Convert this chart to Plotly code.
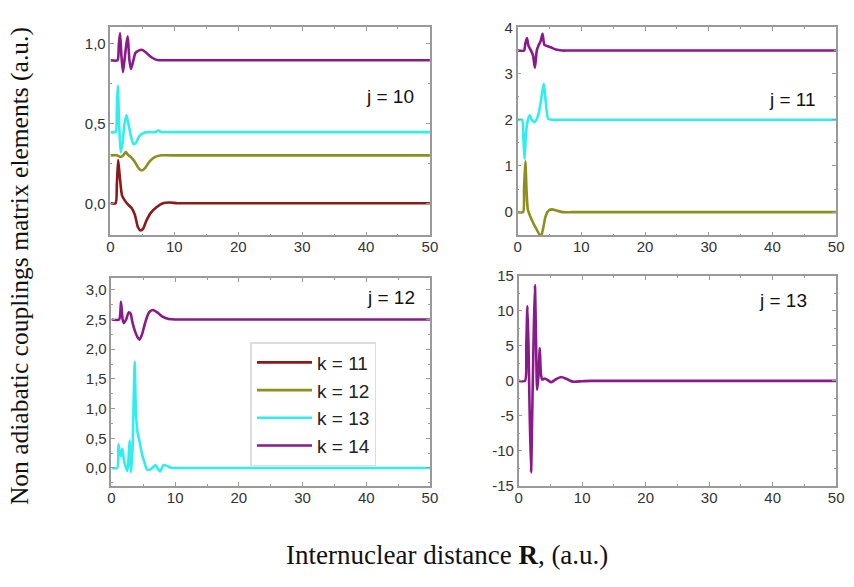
import plotly.graph_objects as go

# ---- series: internuclear distance R (a.u.) and coupling values ----
# j = 10
R_j10_k11 = [0, 0.8, 1.0, 1.2, 1.45, 1.8, 2.2, 2.8, 3.3, 3.8, 4.3, 4.7, 5.1, 5.6, 6.3, 7.2, 8.2, 9.2, 10.5, 12, 50]
V_j10_k11 = [0, 0, 0.12, 0.27, 0.17, 0.05, 0.02, -0.01, -0.03, -0.07, -0.15, -0.17, -0.16, -0.11, -0.06, -0.025, 0, 0.005, 0, 0, 0]
R_j10_k12 = [0, 1.0, 1.6, 2.0, 2.4, 2.8, 3.2, 3.8, 4.4, 4.9, 5.4, 6.2, 7.0, 8.0, 9.5, 50]
V_j10_k12 = [0.3, 0.3, 0.29, 0.3, 0.32, 0.3, 0.29, 0.26, 0.22, 0.205, 0.22, 0.265, 0.29, 0.3, 0.3, 0.3]
R_j10_k13 = [0, 0.8, 1.0, 1.15, 1.35, 1.6, 1.9, 2.2, 2.5, 2.8, 3.2, 3.6, 4.0, 4.5, 5.2, 6.0, 7.0, 7.5, 8.0, 9.5, 50]
V_j10_k13 = [0.445, 0.445, 0.6, 0.735, 0.5, 0.32, 0.38, 0.5, 0.55, 0.5, 0.42, 0.37, 0.38, 0.42, 0.44, 0.445, 0.445, 0.455, 0.445, 0.445, 0.445]
R_j10_k14 = [0, 1.1, 1.3, 1.5, 1.7, 1.95, 2.2, 2.5, 2.7, 2.95, 3.2, 3.5, 3.9, 4.4, 4.9, 5.5, 6.2, 7.0, 7.6, 9.0, 50]
V_j10_k14 = [0.895, 0.895, 0.99, 1.065, 0.93, 0.82, 0.9, 1.0, 1.045, 0.9, 0.84, 0.88, 0.94, 0.955, 0.96, 0.945, 0.92, 0.9, 0.895, 0.895, 0.895]

# j = 11
R_j11_k12 = [0, 0.85, 1.0, 1.2, 1.4, 1.6, 2.0, 2.5, 3.0, 3.4, 3.7, 4.0, 4.4, 4.9, 5.4, 6.2, 7.2, 8.5, 50]
V_j11_k12 = [0, 0, 0.5, 1.1, 0.45, 0.05, -0.1, -0.25, -0.38, -0.48, -0.5, -0.35, -0.08, 0.04, 0.06, 0.03, 0, 0, 0]
R_j11_k13 = [0, 0.7, 0.9, 1.08, 1.3, 1.6, 1.9, 2.2, 2.6, 3.0, 3.4, 3.8, 4.1, 4.4, 4.8, 5.5, 6.5, 50]
V_j11_k13 = [2.0, 2.0, 1.6, 1.15, 1.7, 2.0, 2.1, 2.0, 1.95, 2.02, 2.2, 2.55, 2.78, 2.4, 2.02, 2.0, 2.0, 2.0]
R_j11_k14 = [0, 1.0, 1.2, 1.45, 1.7, 2.0, 2.4, 2.7, 3.0, 3.3, 3.6, 3.9, 4.2, 4.6, 5.2, 6.0, 7.0, 8.0, 50]
V_j11_k14 = [3.5, 3.5, 3.65, 3.77, 3.6, 3.52, 3.4, 3.13, 3.5, 3.62, 3.7, 3.86, 3.62, 3.6, 3.57, 3.52, 3.5, 3.5, 3.5]

# j = 12
R_j12_k13 = [0, 0.9, 1.1, 1.3, 1.5, 1.7, 1.85, 2.0, 2.2, 2.5, 2.7, 2.85, 3.05, 3.3, 3.5, 3.65, 3.85, 4.1, 4.4, 4.7,
             5.1, 5.6, 6.2, 6.9, 7.3, 7.6, 8.2, 8.8, 9.5, 10.5, 50]
V_j12_k13 = [0, 0, 0.4, 0.28, 0.2, 0.32, 0.22, 0.1, 0.03, -0.05, 0.2, 0.46, -0.07, 0.3, 1.2, 1.79, 0.9, 0.6, 0.45, 0.28,
             0.12, -0.03, -0.02, 0.05, -0.02, -0.06, 0.05, 0.03, 0, 0, 0]
R_j12_k14 = [0, 1.2, 1.5, 1.75, 1.95, 2.3, 2.7, 3.0, 3.3, 3.7, 4.1, 4.4, 4.8, 5.3, 5.9, 6.5, 7.2, 8.0, 9.0, 10.0, 11.5, 50]
V_j12_k14 = [2.5, 2.5, 2.8, 2.5, 2.44, 2.5, 2.62, 2.6, 2.45, 2.3, 2.2, 2.16, 2.25, 2.45, 2.62, 2.66, 2.62, 2.55, 2.51, 2.5, 2.5, 2.5]

# j = 13
R_j13_k14 = [0, 1.0, 1.2, 1.38, 1.55, 1.7, 1.95, 2.15, 2.35, 2.56, 2.75, 2.9, 3.1, 3.33, 3.5, 3.7, 4.1, 4.6, 5.1, 5.8,
             6.7, 7.5, 8.5, 10, 11.5, 50]
V_j13_k14 = [0, 0, 5, 10.7, 5, -3, -13.1, -4, 6, 13.7, 5, -1.3, 0.5, 4.7, 1, 0.2, 0.35, 0.1, -0.2, 0.2,
             0.55, 0.3, -0.1, -0.05, 0, 0]

k_labels = ["k = 11", "k = 12", "k = 13", "k = 14"]
k_colors = ["#8B1A1A", "#8E8E1E", "#30EEEE", "#8A1A8A"]
panel_labels = ["j = 10", "j = 11", "j = 12", "j = 13"]

# y tick values / labels (hyphen minus as printed on the axes)
yt_j10 = [0, 0.5, 1.0]
yl_j10 = ["0,0", "0,5", "1,0"]
yt_j11 = [0, 1, 2, 3, 4]
yl_j11 = ["0", "1", "2", "3", "4"]
yt_j12 = [0, 0.5, 1.0, 1.5, 2.0, 2.5, 3.0]
yl_j12 = ["0,0", "0,5", "1,0", "1,5", "2,0", "2,5", "3,0"]
yt_j13 = [-15, -10, -5, 0, 5, 10, 15]
yl_j13 = ["-15", "-10", "-5", "0", "5", "10", "15"]
xt = [0, 10, 20, 30, 40, 50]
xl = ["0", "10", "20", "30", "40", "50"]

W, H = 854, 587
TICK_FONT = dict(family="Arial, Liberation Sans, sans-serif", size=15, color="#333333")
SERIF = "Times New Roman, Liberation Serif, serif"

fig = go.Figure()

def add(panel, k_idx, R, V, legend=False):
    fig.add_trace(go.Scatter(
        x=R, y=V, mode="lines", name=k_labels[k_idx],
        line=dict(color=k_colors[k_idx], width=2.6, shape="spline", smoothing=0.6),
        xaxis="x" if panel == 1 else f"x{panel}",
        yaxis="y" if panel == 1 else f"y{panel}",
        showlegend=legend,
    ))

add(1, 0, R_j10_k11, V_j10_k11, True)
add(1, 1, R_j10_k12, V_j10_k12, True)
add(1, 2, R_j10_k13, V_j10_k13, True)
add(1, 3, R_j10_k14, V_j10_k14, True)
add(2, 1, R_j11_k12, V_j11_k12)
add(2, 2, R_j11_k13, V_j11_k13)
add(2, 3, R_j11_k14, V_j11_k14)
add(3, 2, R_j12_k13, V_j12_k13)
add(3, 3, R_j12_k14, V_j12_k14)
add(4, 3, R_j13_k14, V_j13_k14)

# panel boxes in pixels: (left, right, top, bottom)
boxes = {1: (108, 432, 19, 233), 2: (521, 844, 19, 233), 3: (109, 432, 277, 491), 4: (522, 844, 275, 491)}
yspecs = {
    1: dict(range=[-0.2, 1.1], vals=yt_j10, text=yl_j10, minor=0.25),
    2: dict(range=[-0.5, 4], vals=yt_j11, text=yl_j11, minor=0.5),
    3: dict(range=[-0.3, 3.2], vals=yt_j12, text=yl_j12, minor=0.25),
    4: dict(range=[-15, 15], vals=yt_j13, text=yl_j13, minor=2.5),
}

axis_common = dict(
    showline=True, linecolor="#9a9a9a", linewidth=1.5, mirror="ticks",
    ticks="inside", ticklen=4, tickcolor="#9a9a9a", showgrid=False, zeroline=False,
    tickfont=TICK_FONT,
)

layout_axes = {}
for p, (l, r, t, b) in boxes.items():
    suffix = "" if p == 1 else str(p)
    ys = yspecs[p]
    layout_axes[f"xaxis{suffix}"] = dict(
        axis_common, domain=[l / W, r / W], range=[0, 50], tickvals=xt, ticktext=xl,
        anchor=f"y{suffix}", ticklabelstandoff=-3,
        minor=dict(dtick=5, tick0=0, ticks="inside", ticklen=2, tickcolor="#9a9a9a"),
    )
    layout_axes[f"yaxis{suffix}"] = dict(
        axis_common, domain=[1 - b / H, 1 - t / H], range=ys["range"],
        tickvals=ys["vals"], ticktext=ys["text"], anchor=f"x{suffix}",
        minor=dict(dtick=ys["minor"], tick0=0, ticks="inside", ticklen=2, tickcolor="#9a9a9a"),
    )

annotations = []
label_pos = {1: (392, 90), 2: (800, 93), 3: (393, 297), 4: (790, 300)}
for p, (px, py) in label_pos.items():
    annotations.append(dict(
        text=panel_labels[p - 1], x=px / W, y=1 - py / H, xref="paper", yref="paper",
        xanchor="center", yanchor="middle",
        showarrow=False, font=dict(family="Arial, Liberation Sans, sans-serif", size=19, color="#111111"),
    ))
annotations.append(dict(
    text="Non adiabatic couplings matrix elements (a.u.)", textangle=-90,
    x=16 / W, y=1 - 265 / H, xref="paper", yref="paper", xanchor="center", yanchor="middle",
    showarrow=False, font=dict(family=SERIF, size=25.5, color="#111111"),
))
annotations.append(dict(
    text="Internuclear distance <b>R</b>, (a.u.)",
    x=449 / W, y=1 - 562 / H, xref="paper", yref="paper", xanchor="center", yanchor="middle",
    showarrow=False, font=dict(family=SERIF, size=27, color="#111111"),
))

fig.update_layout(
    width=W, height=H, margin=dict(l=0, r=0, t=0, b=0),
    paper_bgcolor="white", plot_bgcolor="white",
    showlegend=True,
    legend=dict(
        x=250 / W, y=1 - 343 / H, xanchor="left", yanchor="top",
        bgcolor="white", bordercolor="#dddddd", borderwidth=1.5,
        font=dict(family="Arial, Liberation Sans, sans-serif", size=19, color="#222222"),
        itemwidth=55, tracegroupgap=0,
    ),
    annotations=annotations,
    **layout_axes,
)

fig.write_html("out.html")
